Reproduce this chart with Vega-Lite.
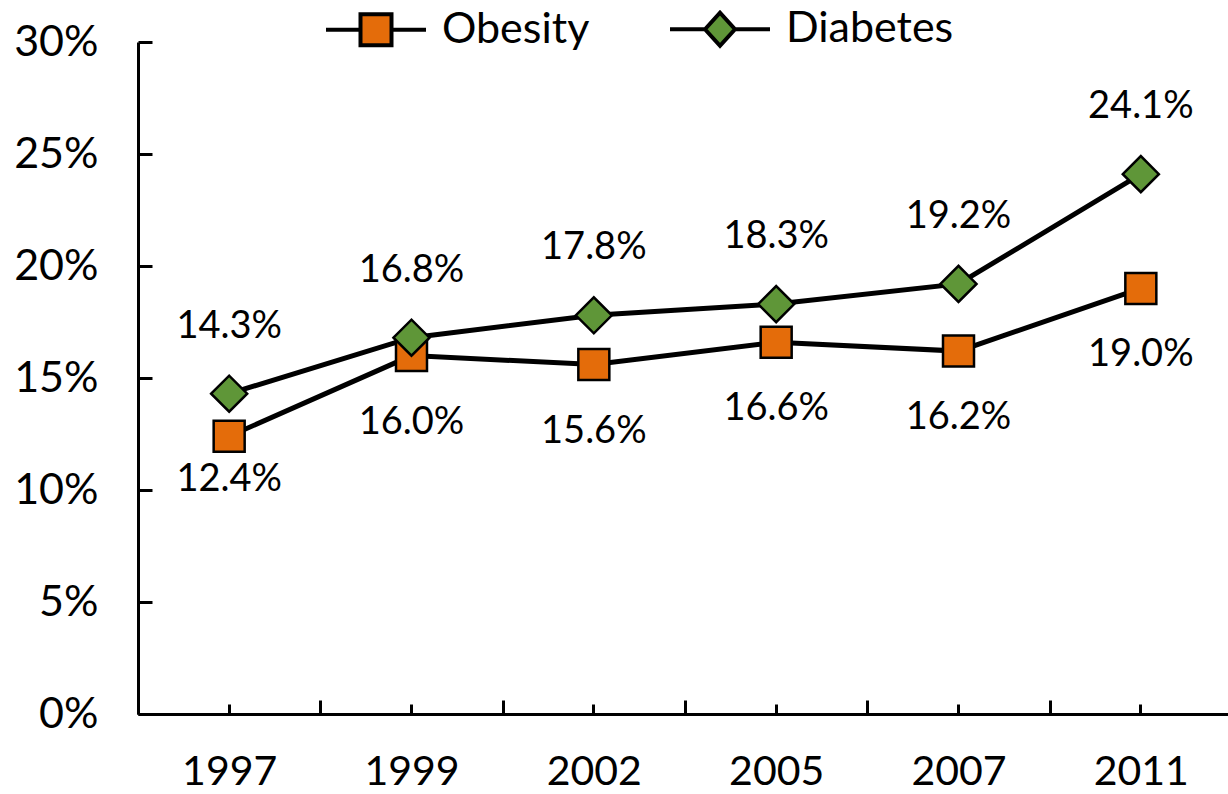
{
  "$schema": "https://vega.github.io/schema/vega-lite/v6.json",
  "width": 1094,
  "height": 672,
  "autosize": "none",
  "padding": {"left": 138, "top": 42, "right": 0, "bottom": 80},
  "background": "white",
  "config": {"view": {"stroke": null}, "font": "Lato"},
  "data": {
    "values": [
      {"year": "1997", "series": "Obesity", "value": 0.124},
      {"year": "1999", "series": "Obesity", "value": 0.160},
      {"year": "2002", "series": "Obesity", "value": 0.156},
      {"year": "2005", "series": "Obesity", "value": 0.166},
      {"year": "2007", "series": "Obesity", "value": 0.162},
      {"year": "2011", "series": "Obesity", "value": 0.190},
      {"year": "1997", "series": "Diabetes", "value": 0.143},
      {"year": "1999", "series": "Diabetes", "value": 0.168},
      {"year": "2002", "series": "Diabetes", "value": 0.178},
      {"year": "2005", "series": "Diabetes", "value": 0.183},
      {"year": "2007", "series": "Diabetes", "value": 0.192},
      {"year": "2011", "series": "Diabetes", "value": 0.241}
    ]
  },
  "resolve": {"axis": {"x": "independent"}},
  "layer": [
    {
      "encoding": {
        "x": {
          "field": "year", "type": "ordinal", "sort": null,
          "scale": {"type": "band", "paddingInner": 0, "paddingOuter": 0},
          "axis": {
            "orient": "bottom", "title": null, "labelAngle": 0, "labelFontSize": 41, "labelColor": "black", "labelFont": "Lato",
            "labelPadding": 52, "domainColor": "black", "domainWidth": 3,
            "tickBand": "extent", "tickSize": -14, "tickWidth": 3, "tickColor": "black", "grid": false
          }
        },
        "y": {
          "field": "value", "type": "quantitative",
          "scale": {"domain": [0, 0.3], "nice": false, "zero": true},
          "axis": {
            "title": null, "values": [0, 0.05, 0.1, 0.15, 0.2, 0.25, 0.3], "format": ".0%",
            "labelFontSize": 43, "labelColor": "black", "labelFont": "Lato", "labelPadding": 54,
            "domainColor": "black", "domainWidth": 3, "tickSize": -14, "tickWidth": 3, "tickColor": "black", "grid": false
          }
        }
      },
      "layer": [
        {
          "mark": {"type": "line", "color": "black", "strokeWidth": 5},
          "encoding": {"detail": {"field": "series"}}
        },
        {
          "transform": [{"filter": "datum.series === 'Obesity'"}],
          "mark": {"type": "point", "shape": "square", "filled": true, "size": 961, "stroke": "black", "strokeWidth": 2.5, "opacity": 1},
          "encoding": {
            "color": {
              "field": "series", "type": "nominal",
              "scale": {"domain": ["Obesity", "Diabetes"], "range": ["#E46C0A", "#5F9638"]},
              "legend": {
                "orient": "none", "legendX": 186, "legendY": -65, "direction": "horizontal", "title": null,
                "symbolSize": 10000, "symbolStrokeWidth": 4, "symbolStrokeColor": "black",
                "labelFontSize": 43, "labelFont": "Lato", "labelColor": "black", "labelOffset": 14, "columnPadding": 72,
                "labelLimit": 0, "symbolOpacity": 1,
                "encode": {
                  "symbols": {
                    "update": {
                      "shape": {"signal": "datum.value === 'Obesity' ? 'M -1 0 L -0.31 0 M 0.31 0 L 1 0 M -0.31 -0.31 L 0.31 -0.31 L 0.31 0.31 L -0.31 0.31 Z' : 'M -1 0 L -0.3 0 M 0.3 0 L 1 0 M -0.3 0 L 0 -0.33 L 0.3 0 L 0 0.33 Z'"},
                      "stroke": {"value": "black"},
                      "strokeWidth": {"value": 4}
                    }
                  }
                }
              }
            }
          }
        },
        {
          "transform": [{"filter": "datum.series === 'Diabetes'"}],
          "mark": {"type": "point", "shape": "diamond", "filled": true, "size": 1300, "stroke": "black", "strokeWidth": 2.5, "opacity": 1},
          "encoding": {
            "color": {"field": "series", "type": "nominal"}
          }
        },
        {
          "transform": [{"filter": "datum.series === 'Diabetes'"}],
          "mark": {"type": "text", "dy": -67, "fontSize": 38, "font": "Lato", "color": "black", "baseline": "middle"},
          "encoding": {"text": {"field": "value", "type": "quantitative", "format": ".1%"}}
        },
        {
          "transform": [{"filter": "datum.series === 'Obesity' && datum.year !== '1997'"}],
          "mark": {"type": "text", "dy": 67, "fontSize": 38, "font": "Lato", "color": "black", "baseline": "middle"},
          "encoding": {"text": {"field": "value", "type": "quantitative", "format": ".1%"}}
        },
        {
          "transform": [{"filter": "datum.series === 'Obesity' && datum.year === '1997'"}],
          "mark": {"type": "text", "dy": 44, "fontSize": 38, "font": "Lato", "color": "black", "baseline": "middle"},
          "encoding": {"text": {"field": "value", "type": "quantitative", "format": ".1%"}}
        }
      ]
    },
    {
      "mark": {"type": "point", "opacity": 0},
      "encoding": {
        "x": {
          "field": "year", "type": "ordinal", "sort": null,
          "axis": {
            "orient": "bottom", "title": null, "labels": false, "domain": false,
            "tickBand": "center", "tickSize": -10, "tickWidth": 3, "tickColor": "black", "grid": false
          }
        },
        "y": {"field": "value", "type": "quantitative"}
      }
    }
  ]
}
